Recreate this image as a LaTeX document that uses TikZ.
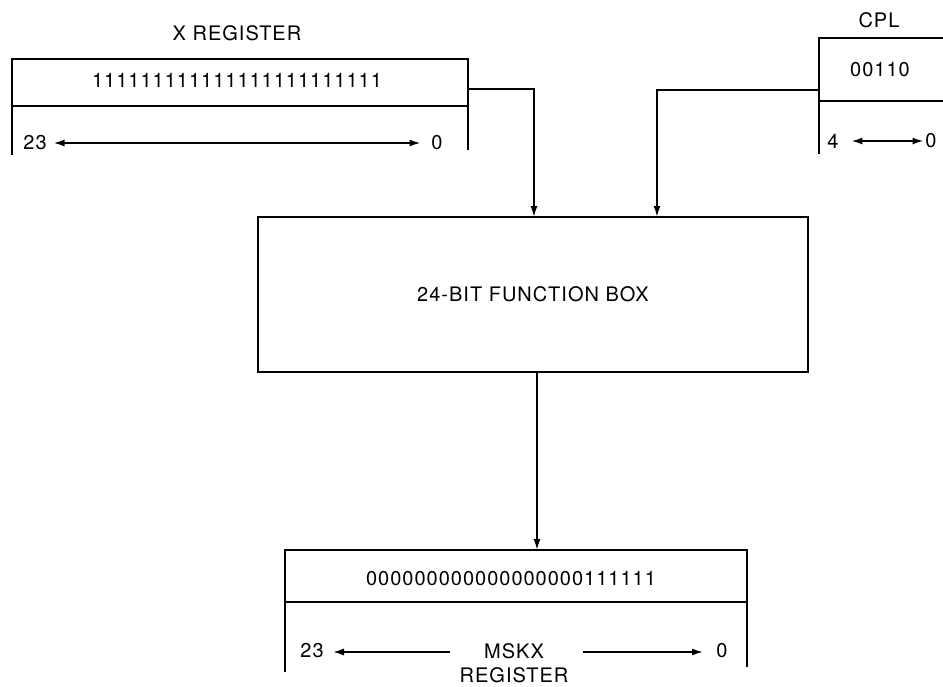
\documentclass[tikz,border=0pt]{standalone}
\usepackage{fontspec}
\setmainfont{TeX Gyre Heros}[LetterSpace=5]
\usetikzlibrary{arrows.meta}
\begin{document}
\begin{tikzpicture}[x=1pt,y=-1pt,
  font=\fontsize{20}{22}\selectfont,
  every path/.style={line width=1.8pt},
  lbl/.style={inner sep=0pt},
  tip/.style={-{Latex[length=11pt,width=7pt]}},
  dtip/.style={{Latex[length=11pt,width=7pt]}-{Latex[length=11pt,width=7pt]}, line width=1.6pt}
]
\useasboundingbox (0,0) rectangle (943,686);

% ---------- X register ----------
\node[lbl] (xlabel) at (237,33) {X REGISTER};
\draw (12,59) rectangle (468,106);
\coordinate (xrsw) at (12,106);
\coordinate (xrse) at (468,106);
\coordinate (xrout) at (468,89);
\draw (xrsw) -- (12,155);
\draw (xrse) -- (468,150);
\node[lbl] (xbits) at (237,80) {111111111111111111111111};
\node[lbl] (x23) at (35,143) {23};
\node[lbl] (x0) at (437,143) {0};
\draw[dtip] ([xshift=6pt]x23.east) -- ([xshift=-10pt]x0.west);

% ---------- CPL ----------
\node[lbl] (cpllabel) at (879,20) {CPL};
\draw (943,38) -- (819,38) -- (819,154);
\draw (819,101) -- (943,101);
\coordinate (cplout) at (819,90);
\node[lbl] (cplbits) at (880,70) {00110};
\node[lbl] (c4) at (833,141) {4};
\node[lbl] (c0) at (931,141) {0};
\draw[dtip] ([xshift=12pt]c4.east) -- ([xshift=-1pt]c0.west);

% ---------- Function box ----------
\node[draw, line width=1.8pt, minimum width=550pt, minimum height=155pt, inner sep=0pt]
  (fb) at (533,294.5) {24-BIT FUNCTION BOX};

% ---------- connectors ----------
\coordinate (fbin1) at (534,217);
\coordinate (fbin2) at (657,217);
\draw[tip] (xrout) -| (fbin1);
\draw[tip] (cplout) -| (fbin2);

% ---------- MSKX register ----------
\draw (285,550) rectangle (747,602);
\coordinate (msin) at (537,550);
\coordinate (fbout) at (537,372);
\draw[tip] (fbout) -- (msin);
\draw (285,602) -- (285,672);
\draw (747,602) -- (747,667);
\node[lbl] (mbits) at (511,579) {000000000000000000111111};
\node[lbl] (m23) at (312,651) {23};
\node[lbl] (mname) at (514,651) {MSKX};
\node[lbl] (mname2) at (514,675) {REGISTER};
\node[lbl] (m0) at (722,651) {0};
\draw[tip, line width=1.6pt] (450,652) -- (333,652);
\draw[tip, line width=1.6pt] (583,652) -- (703,652);
\end{tikzpicture}
\end{document}
